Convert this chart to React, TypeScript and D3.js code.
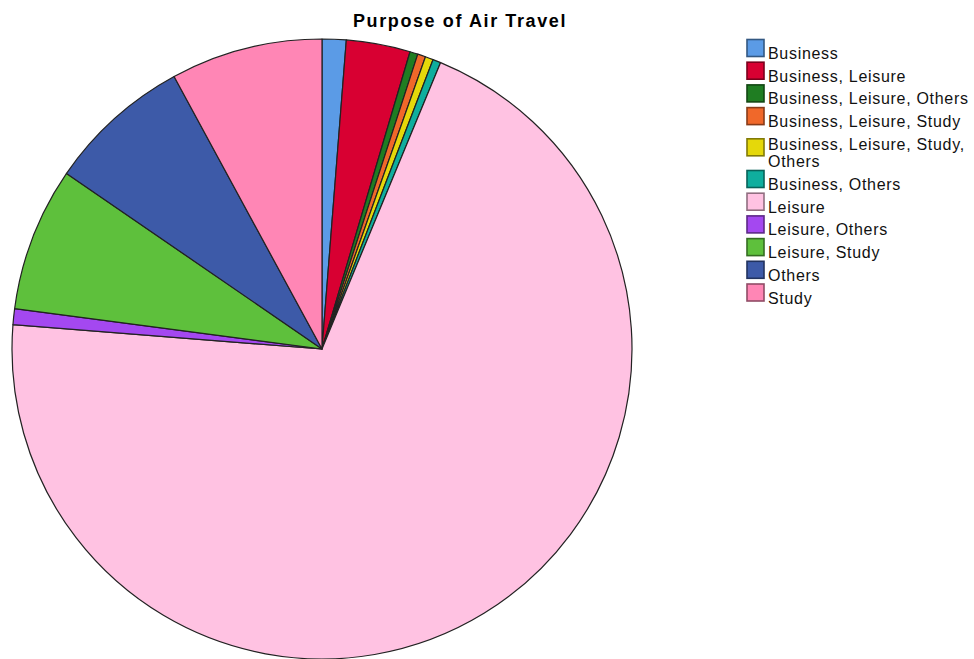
import React from "react";
import * as d3 from "d3";

const categories = [
  "Business",
  "Business, Leisure",
  "Business, Leisure, Others",
  "Business, Leisure, Study",
  "Business, Leisure, Study, Others",
  "Business, Others",
  "Leisure",
  "Leisure, Others",
  "Leisure, Study",
  "Others",
  "Study",
];
const counts = [3, 8, 1, 1, 1, 1, 168, 2, 18, 18, 19];
const fills = [
  "#5B9BE6", "#D80032", "#1F7D22", "#F0682A", "#E5D80A", "#0FAE9E",
  "#FFC2E2", "#A448F0", "#5EC03C", "#3D5AA8", "#FF86B5",
];
const title = "Purpose of Air Travel";

const W = 974, H = 659;
const cx = 322, cy = 349, R = 310;

function wrap(label: string): string[] {
  if (label.length <= 26) return [label];
  const i = label.lastIndexOf(" ", 26);
  return [label.slice(0, i), label.slice(i + 1)];
}

export default function App() {
  const pie = d3.pie<number>().sort(null).value((d) => d)(counts);
  const arc = d3.arc<d3.PieArcDatum<number>>().innerRadius(0).outerRadius(R);
  let y = 59;
  const rows: { y: number; lines: string[]; i: number }[] = [];
  categories.forEach((c, i) => {
    const lines = wrap(c);
    rows.push({ y, lines, i });
    y += 22.7 + (lines.length - 1) * 17.5;
  });
  return (
    <svg width={W} height={H} style={{ position: "absolute", left: 0, top: 0, background: "#fff" }}>
      <text x={460} y={27} textAnchor="middle" fontFamily="Liberation Sans, Arial, sans-serif" fontWeight="bold" fontSize={18} letterSpacing={1.6}>{title}</text>
      <g transform={`translate(${cx},${cy})`}>
        {pie.map((p, i) => (
          <path key={i} d={arc(p) || ""} fill={fills[i]} stroke="#222" strokeWidth={1.2} strokeLinejoin="round" />
        ))}
      </g>
      <g fontFamily="Liberation Sans, Arial, sans-serif" fontSize={16} letterSpacing={0.7} fill="#111">
        {rows.map((r) => (
          <g key={r.i}>
            <rect x={747} y={r.y - (r.lines.length > 1 ? 11 : 19.5) } width={17} height={17} fill={fills[r.i]}
              stroke={d3.color(fills[r.i])!.darker(1.6).formatHex()} strokeWidth={1.6} />
            {r.lines.map((l, k) => (
              <text key={k} x={768} y={r.y + k * 17}>{l}</text>
            ))}
          </g>
        ))}
      </g>
    </svg>
  );
}
